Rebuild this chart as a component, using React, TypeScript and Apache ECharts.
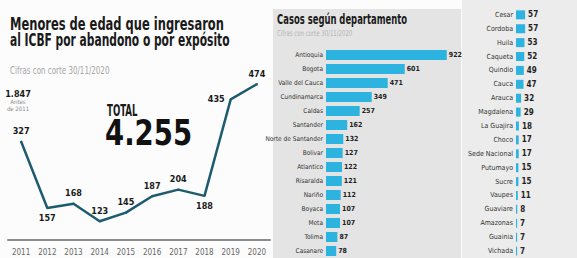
import React, { useEffect, useRef } from 'react';
import * as echarts from 'echarts';

const years = ['2011', '2012', '2013', '2014', '2015', '2016', '2017', '2018', '2019', '2020'];
const ingresos = [327, 157, 168, 123, 145, 187, 204, 188, 435, 474];
const ingresosLabelPos = ['top', 'bottom', 'top', 'top', 'top', 'top', 'top', 'bottom', 'left', 'top'];
const antesDe2011 = '1.847';
const total = '4.255';

const deptosA = ['Antioquia', 'Bogota', 'Valle del Cauca', 'Cundinamarca', 'Caldas', 'Santander', 'Norte de Santander', 'Bolivar', 'Atlantico', 'Risaralda', 'Nariño', 'Boyaca', 'Meta', 'Tolima', 'Casanare'];
const casosA = [922, 601, 471, 349, 257, 162, 132, 127, 122, 121, 112, 107, 107, 87, 78];
const deptosB = ['Cesar', 'Cordoba', 'Huila', 'Caqueta', 'Quindio', 'Cauca', 'Arauca', 'Magdalena', 'La Guajira', 'Choco', 'Sede Nacional', 'Putumayo', 'Sucre', 'Vaupes', 'Guaviare', 'Amazonas', 'Guainia', 'Vichada'];
const casosB = [57, 57, 53, 52, 49, 47, 32, 29, 18, 17, 17, 15, 15, 11, 8, 7, 7, 7];

const NARROW = "'Liberation Sans Narrow', 'DejaVu Sans Condensed', Roboto, sans-serif";
const LINE = '#1d5c70';
const BAR = '#2cb3e0';

function txt(x: number, y: number, text: string, size: number, opts: any = {}) {
  return {
    type: 'text',
    x,
    y,
    scaleX: opts.scaleX ?? 1,
    z: 10,
    style: {
      text,
      fontSize: size,
      fontFamily: NARROW,
      fontWeight: opts.weight ?? 'normal',
      fill: opts.fill ?? '#1a1a1a',
      align: opts.align ?? 'left',
      verticalAlign: 'middle',
    },
  };
}

export default function App() {
  const ref = useRef<HTMLDivElement>(null);
  useEffect(() => {
    if (!ref.current) return;
    const chart = echarts.init(ref.current, null, { renderer: 'svg' });
    const option: any = {
      animation: false,
      backgroundColor: '#fcfcfc',
      graphic: [
        { type: 'rect', z: -10, shape: { x: 273, y: 9, width: 188, height: 249 }, style: { fill: '#e4e4e4' } },
        { type: 'rect', z: -10, shape: { x: 462, y: 0, width: 115, height: 258 }, style: { fill: '#ececec' } },
        txt(10, 24, 'Menores de edad que ingresaron', 18, { weight: 'bold', scaleX: 0.71 }),
        txt(10, 40, 'al ICBF por abandono o por expósito', 18, { weight: 'bold', scaleX: 0.66 }),
        txt(10, 70, 'Cifras con corte 30/11/2020', 11, { fill: '#a5a5a5', scaleX: 0.72 }),
        txt(18, 93.5, antesDe2011, 9, { weight: 'bold', align: 'center' }),
        txt(18, 101.5, 'Antes', 6, { fill: '#8a8a8a', align: 'center' }),
        txt(18, 108, 'de 2011', 6, { fill: '#8a8a8a', align: 'center' }),
        txt(107, 111, 'TOTAL', 16, { weight: 'bold', scaleX: 0.6 }),
        txt(105, 133, total, 36, { weight: 'bold', scaleX: 0.85, fill: '#111' }),
        txt(277, 19, 'Casos según departamento', 14, { weight: 'bold', scaleX: 0.67 }),
        txt(277, 33, 'Cifras con corte 30/11/2020', 8, { fill: '#b5b5b5', scaleX: 0.75 }),
      ],
      grid: [
        { left: 8, width: 262, top: 74, height: 166 },
        { left: 326, width: 131, top: 48, height: 214.3 },
        { left: 516, width: 16, top: 7.9, height: 256.3 },
      ],
      xAxis: [
        {
          gridIndex: 0,
          type: 'category',
          data: years,
          boundaryGap: true,
          axisLine: { onZero: false, lineStyle: { color: '#8c8c8c', width: 2 } },
          axisTick: { show: false },
          axisLabel: { fontSize: 8, color: '#666', margin: 8, interval: 0, fontFamily: NARROW },
        },
        { gridIndex: 1, type: 'value', min: 0, max: 1000, show: false },
        { gridIndex: 2, type: 'value', min: 0, max: 100, show: false },
      ],
      yAxis: [
        { gridIndex: 0, type: 'value', min: 75, max: 500, show: false },
        {
          gridIndex: 1,
          type: 'category',
          data: deptosA,
          inverse: true,
          axisLine: { show: false },
          axisTick: { show: false },
          axisLabel: { fontSize: 6.5, margin: 3, color: '#333', fontFamily: NARROW },
        },
        {
          gridIndex: 2,
          type: 'category',
          data: deptosB,
          inverse: true,
          axisLine: { show: false },
          axisTick: { show: false },
          axisLabel: { fontSize: 7, margin: 3, color: '#333', fontFamily: NARROW },
        },
      ],
      series: [
        {
          type: 'line',
          xAxisIndex: 0,
          yAxisIndex: 0,
          data: ingresos.map((v, i) => ({ value: v, label: { position: ingresosLabelPos[i] } })),
          symbol: 'circle',
          symbolSize: 2,
          itemStyle: { color: LINE },
          lineStyle: { color: LINE, width: 2.5 },
          label: { show: true, fontSize: 9, fontWeight: 'bold', color: '#1a1a1a', fontFamily: NARROW, distance: 5 },
        },
        {
          type: 'bar',
          xAxisIndex: 1,
          yAxisIndex: 1,
          data: casosA,
          barWidth: 10,
          itemStyle: { color: BAR },
          label: { show: true, position: 'right', distance: 2, fontSize: 7, fontWeight: 'bold', color: '#222', fontFamily: NARROW },
        },
        {
          type: 'bar',
          xAxisIndex: 2,
          yAxisIndex: 2,
          data: casosB,
          barWidth: 9,
          itemStyle: { color: BAR },
          label: { show: true, position: 'right', distance: 3, fontSize: 8, fontWeight: 'bold', color: '#222', fontFamily: NARROW },
        },
      ],
    };
    chart.setOption(option);
    return () => chart.dispose();
  }, []);
  return <div ref={ref} style={{ width: 577, height: 258, position: 'absolute', left: 0, top: 0 }} />;
}
